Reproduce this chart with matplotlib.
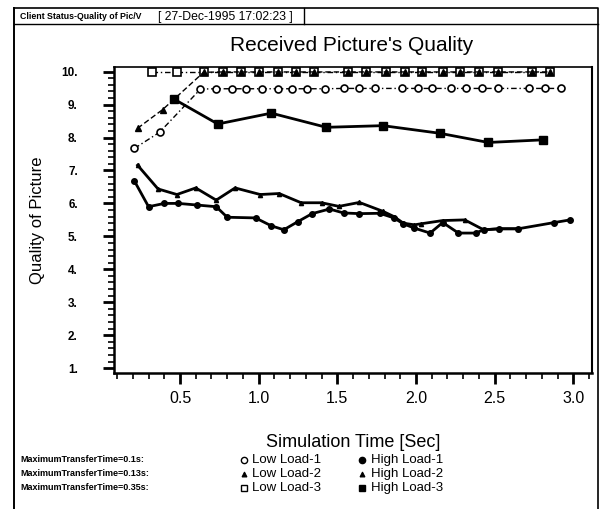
import matplotlib
matplotlib.use("Agg")
import matplotlib.pyplot as plt
from matplotlib import font_manager
from matplotlib.ticker import MultipleLocator, FormatStrFormatter

plt.rcParams['font.family'] = ['Liberation Sans', 'DejaVu Sans']
_names = {f.name for f in font_manager.fontManager.ttflist}
NARROW = 'Liberation Sans Narrow' if 'Liberation Sans Narrow' in _names else 'Liberation Sans'

# ---- data -------------------------------------------------------------------
ll1_x = [0.21, 0.37, 0.63, 0.73, 0.83, 0.92, 1.02, 1.12, 1.21, 1.31, 1.42, 1.54,
         1.64, 1.74, 1.91, 2.01, 2.10, 2.22, 2.32, 2.42, 2.52, 2.72, 2.82, 2.92]
ll1_y = [7.67, 8.16, 9.47, 9.48, 9.48, 9.48, 9.48, 9.48, 9.48, 9.48, 9.48, 9.49,
         9.49, 9.49, 9.49, 9.49, 9.49, 9.49, 9.49, 9.49, 9.49, 9.49, 9.49, 9.49]

ll2_x = [0.23, 0.39, 0.65, 0.77, 0.89, 1.00, 1.12, 1.24, 1.35, 1.57, 1.68, 1.81,
         1.93, 2.04, 2.17, 2.28, 2.40, 2.52, 2.74, 2.85]
ll2_y = [8.28, 8.85, 9.98, 9.99, 9.99, 9.99, 9.99, 9.99, 9.99, 9.99, 9.99, 9.99,
         9.99, 9.99, 9.99, 9.99, 9.99, 9.99, 9.99, 9.99]

ll3_x = [0.32, 0.48, 0.65, 0.77, 0.89, 1.00, 1.12, 1.24, 1.35, 1.57, 1.68, 1.81,
         1.93, 2.04, 2.17, 2.28, 2.40, 2.52, 2.74, 2.85]
ll3_y = [10.0, 10.0, 10.0, 10.0, 10.0, 10.0, 10.0, 10.0, 10.0, 10.0, 10.0, 10.0,
         10.0, 10.0, 10.0, 10.0, 10.0, 10.0, 10.0, 10.0]

hl1_x = [0.21, 0.30, 0.40, 0.49, 0.61, 0.73, 0.80, 0.98, 1.08, 1.16, 1.25, 1.34,
         1.45, 1.54, 1.64, 1.77, 1.86, 1.92, 1.99, 2.09, 2.17, 2.27, 2.38, 2.43,
         2.53, 2.65, 2.88, 2.98]
hl1_y = [6.68, 5.90, 6.00, 6.00, 5.95, 5.90, 5.58, 5.56, 5.32, 5.20, 5.45, 5.69,
         5.83, 5.71, 5.69, 5.70, 5.56, 5.38, 5.25, 5.10, 5.42, 5.10, 5.10, 5.20,
         5.23, 5.23, 5.42, 5.50]

hl2_x = [0.23, 0.36, 0.48, 0.60, 0.73, 0.85, 1.01, 1.13, 1.27, 1.40, 1.51, 1.64,
         1.79, 1.86, 1.92, 1.99, 2.03, 2.17, 2.31, 2.43, 2.53, 2.65]
hl2_y = [7.16, 6.44, 6.27, 6.47, 6.10, 6.47, 6.27, 6.30, 6.02, 6.02, 5.91, 6.03,
         5.76, 5.60, 5.40, 5.35, 5.38, 5.48, 5.50, 5.20, 5.23, 5.23]

hl3_x = [0.46, 0.74, 1.08, 1.43, 1.79, 2.15, 2.46, 2.81]
hl3_y = [9.17, 8.41, 8.74, 8.31, 8.36, 8.13, 7.85, 7.93]

row_labels = ["MaximumTransferTime=0.1s:", "MaximumTransferTime=0.13s:",
              "MaximumTransferTime=0.35s:"]
low_labels = ["Low Load-1", "Low Load-2", "Low Load-3"]
high_labels = ["High Load-1", "High Load-2", "High Load-3"]

# ---- figure -----------------------------------------------------------------
fig = plt.figure(figsize=(6.03, 5.09), dpi=100)

# overlay in pixel coordinates for frame, header and legend
ov = fig.add_axes([0, 0, 1, 1])
ov.set_xlim(0, 603)
ov.set_ylim(509, 0)
ov.axis("off")

K = "black"
ov.plot([14, 598, 598], [8, 8, 509], color=K, lw=1.2)
ov.plot([14, 14], [8, 509], color=K, lw=1.4)
ov.plot([14, 598], [24, 24], color=K, lw=1.0)
ov.plot([304, 304], [8, 24], color=K, lw=1.0)
ov.text(20, 16.5, "Client Status-Quality of Pic/V", fontsize=6.3, fontweight="bold",
        ha="left", va="center", color=K)
ov.text(158, 16.5, "[ 27-Dec-1995 17:02:23 ]", fontsize=8.8,
        ha="left", va="center", color=K)

ov.text(352, 45, "Received Picture's Quality", fontsize=15, ha="center",
        va="center", color=K)

# legend block
mk = {"low": [dict(marker="o", mfc="white", ms=4.5, mew=1.0),
              dict(marker="^", mfc=K, ms=3.5, mew=0.8),
              dict(marker="s", mfc="white", ms=5, mew=1.0)],
      "high": [dict(marker="o", mfc=K, ms=4.5, mew=1.0),
               dict(marker="^", mfc=K, ms=3.5, mew=0.8),
               dict(marker="s", mfc=K, ms=5, mew=1.0)]}
for i, y in enumerate([460, 474, 488]):
    ov.text(20, y, row_labels[i], fontsize=6.5, fontweight="bold", ha="left",
            va="center", color=K)
    ov.plot([244], [y], linestyle="none", color=K, mec=K, **mk["low"][i])
    ov.text(252, y, low_labels[i], fontsize=9.5, ha="left", va="center", color=K)
    ov.plot([362], [y], linestyle="none", color=K, mec=K, **mk["high"][i])
    ov.text(371, y, high_labels[i], fontsize=9.5, ha="left", va="center", color=K)

# ---- main plot --------------------------------------------------------------
ax = fig.add_axes([0.189, 0.267, 0.793, 0.602])
dashdot = (0, (4, 2, 1, 2))
ax.plot(ll1_x, ll1_y, color=K, lw=1.0, ls=dashdot, marker="o", mfc="white",
        mec=K, ms=5, mew=1.2, zorder=3)
ax.plot(ll3_x, ll3_y, color=K, lw=1.0, ls=dashdot, marker="s", mfc="white",
        mec=K, ms=5.5, mew=1.2, zorder=3)
ax.plot(ll2_x, ll2_y, color=K, lw=1.0, ls=(0, (4, 2)), marker="^", mfc=K,
        mec=K, ms=4.5, mew=1.0, zorder=4)
ax.plot(hl1_x, hl1_y, color=K, lw=2.0, marker="o", mfc=K, mec=K, ms=4, zorder=3)
ax.plot(hl2_x, hl2_y, color=K, lw=2.0, marker="^", mfc=K, mec=K, ms=3, zorder=3)
ax.plot(hl3_x, hl3_y, color=K, lw=2.0, marker="s", mfc=K, mec=K, ms=5.5, zorder=3)

ax.set_xlim(0.08, 3.12)
ax.set_ylim(0.85, 10.15)
ax.xaxis.set_major_locator(MultipleLocator(0.5))
ax.xaxis.set_minor_locator(MultipleLocator(0.1))
ax.yaxis.set_major_locator(MultipleLocator(1))
ax.yaxis.set_minor_locator(MultipleLocator(0.2))
ax.xaxis.set_major_formatter(FormatStrFormatter("%.1f"))
ax.yaxis.set_major_formatter(FormatStrFormatter("%d."))
ax.tick_params(axis="both", which="major", direction="out", length=8, width=2.0,
               colors=K)
ax.tick_params(axis="both", which="minor", direction="out", length=4, width=1.2,
               colors=K)
ax.tick_params(axis="y", which="major", pad=18, labelsize=8.5)
ax.tick_params(axis="x", which="major", pad=5, labelsize=11.5)
ax.set_xticks([0.5, 1.0, 1.5, 2.0, 2.5, 3.0])
ax.set_yticks(range(1, 11))
for lab in ax.get_yticklabels():
    lab.set_fontweight("bold")
ax.spines["left"].set_linewidth(1.8)
ax.spines["bottom"].set_linewidth(1.8)
ax.spines["top"].set_linewidth(1.2)
ax.spines["right"].set_linewidth(1.5)

ax.set_xlabel("Simulation Time [Sec]", fontsize=13, labelpad=20, color=K)
ax.set_ylabel("Quality of Picture", fontsize=12, family=NARROW, labelpad=12,
              color=K)

fig.savefig("out.png", dpi=100)
